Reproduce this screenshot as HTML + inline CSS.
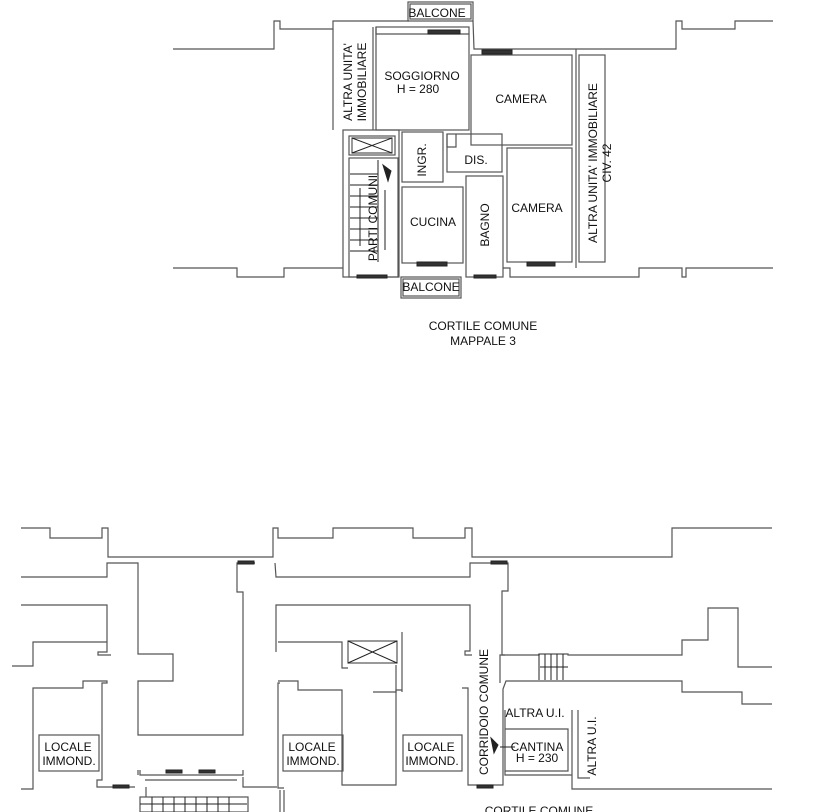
<!DOCTYPE html>
<html><head><meta charset="utf-8"><style>
body{margin:0;background:#fff}
svg{display:block}
text{font-family:"Liberation Sans",sans-serif;font-size:12px;fill:#111}
.w{fill:none;stroke:#555;stroke-width:1.2}
.t{fill:none;stroke:#222;stroke-width:1}
</style></head><body>
<svg width="832" height="812" viewBox="0 0 832 812" xmlns="http://www.w3.org/2000/svg">
<!-- TOP PLAN -->
<g class="w">
<polyline points="173,49 274,49 274,21 280,21 280,29 333,29 333,21 409,21"/>
<rect x="408" y="2" width="65" height="19"/>
<rect x="410" y="4" width="61" height="15"/>
<polyline points="473,21 474,49 676,49 676,21 682,21 682,29 735,29 735,21 773,21"/>
<polyline points="333,29 333,130"/>
<line x1="373" y1="27" x2="373" y2="130"/>
<rect x="376" y="27" width="93" height="103"/>
<polyline points="376,27 376,34 469,34"/>
<rect x="471" y="55" width="101" height="90"/>
<line x1="576" y1="49" x2="576" y2="268"/>
<rect x="579" y="55" width="26" height="207"/>
<rect x="507" y="148" width="65" height="114"/>
<rect x="466" y="176" width="37" height="101"/>
<rect x="447" y="134" width="55" height="38"/>
<polyline points="447,134 447,147 456,147 456,134"/>
<rect x="402" y="132" width="41" height="50"/>
<rect x="402" y="187" width="61" height="76"/>
<rect x="343" y="130" width="56" height="147"/>
<rect x="349" y="136" width="46" height="19"/>
<rect x="352" y="138" width="40" height="15"/>
<rect x="349" y="158" width="49" height="119"/>
<rect x="401" y="277" width="60" height="21"/>
<rect x="403" y="279" width="56" height="17"/>
<polyline points="173,268 237,268 237,277 284,277 284,268 343,268"/>
<polyline points="503,268 510,268 510,277 639,277 639,268 682,268 682,277 686,277 686,268 773,268"/>
</g>
<g class="t">
<line x1="352" y1="138" x2="392" y2="153"/><line x1="392" y1="138" x2="352" y2="153"/>
<line x1="350" y1="174" x2="378" y2="174"/><line x1="350" y1="185" x2="378" y2="185"/>
<line x1="350" y1="196" x2="378" y2="196"/><line x1="350" y1="207" x2="378" y2="207"/>
<line x1="350" y1="218" x2="378" y2="218"/><line x1="350" y1="229" x2="378" y2="229"/>
<line x1="350" y1="240" x2="378" y2="240"/><line x1="350" y1="251" x2="378" y2="251"/>
<line x1="360" y1="188" x2="360" y2="246"/><line x1="385" y1="190" x2="385" y2="250"/>
<line x1="378" y1="160" x2="378" y2="262"/>
<rect x="428" y="30" width="32" height="4" fill="#333"/>
<rect x="482" y="50" width="30" height="4" fill="#333"/>
<rect x="417" y="262" width="30" height="4" fill="#333"/>
<rect x="527" y="262" width="28" height="4" fill="#333"/>
<rect x="357" y="275" width="30" height="3" fill="#333"/>
<rect x="474" y="275" width="22" height="3" fill="#333"/>
<path d="M383,165 l8,6 l-3,10 z" fill="#222"/>
</g>
<text x="422" y="80" text-anchor="middle">SOGGIORNO</text>
<text x="418" y="93" text-anchor="middle">H = 280</text>
<text x="521" y="103" text-anchor="middle">CAMERA</text>
<text x="537" y="212" text-anchor="middle">CAMERA</text>
<text x="433" y="226" text-anchor="middle">CUCINA</text>
<text x="476" y="164" text-anchor="middle">DIS.</text>
<text x="437" y="17" text-anchor="middle">BALCONE</text>
<text x="431" y="291" text-anchor="middle">BALCONE</text>
<text transform="translate(426,160) rotate(-90)" text-anchor="middle">INGR.</text>
<text transform="translate(489,225) rotate(-90)" text-anchor="middle">BAGNO</text>
<text transform="translate(377,218) rotate(-90)" text-anchor="middle">PARTI COMUNI</text>
<text transform="translate(352,82) rotate(-90)" text-anchor="middle">ALTRA UNITA'</text>
<text transform="translate(366,82) rotate(-90)" text-anchor="middle">IMMOBILIARE</text>
<text transform="translate(597,163) rotate(-90)" text-anchor="middle">ALTRA UNITA' IMMOBILIARE</text>
<text transform="translate(611,163) rotate(-90)" text-anchor="middle">CIV. 42</text>
<text x="483" y="330" text-anchor="middle">CORTILE COMUNE</text>
<text x="483" y="345" text-anchor="middle">MAPPALE 3</text>

<!-- BOTTOM PLAN -->
<g class="w">
<polyline points="21,528 50,528 50,538 102,538 102,528 108,528 108,557 273,557 273,528 278,528 278,538 333,538 333,528 413,528 413,538 465,538 465,528 472,528 472,557 672,557 672,528 772,528"/>
<polyline points="21,577 107,577 107,563 138,563 138,654 173,654 173,681 138,681 138,735 243,735 243,592 237,592 237,563 255,563"/>
<polyline points="275,563 276,577 470,577 470,563 508,563 508,591 502,591 502,655 505,655"/>
<polyline points="21,605 107,605 107,652 98,652 98,655 111,655"/>
<polyline points="276,652 276,605 470,605 470,651 465,651 465,655 472,655"/>
<polyline points="12,666 33,666 33,642 107,642"/>
<polyline points="278,642 342,642 342,668 348,668"/>
<polyline points="21,789 33,789 33,688 83,688 83,681 107,681 107,683 102,683 102,780 97,780 97,787 135,787"/>
<polyline points="278,681 298,681 298,690 342,690 342,785 396,785 396,690 402,690"/>
<polyline points="402,632 402,690 402,692"/>
<polyline points="280,683 278,683 278,788 284,788"/>
<polyline points="243,777 243,787 277,787"/>
<rect x="39" y="735" width="60" height="36"/>
<rect x="283" y="735" width="60" height="36"/>
<rect x="403" y="735" width="59" height="36"/>
<rect x="348" y="641" width="49" height="22"/>
<polyline points="373,692 396,692 396,665"/>
<polyline points="462,688 468,688 468,785 503,785 503,689 506,681 682,681 682,692 742,692 742,704 772,704"/>
<polyline points="500,683 500,655 539,655 539,654 568,654 568,655 682,655 682,640 708,640 708,608 738,608 738,667 745,667 772,667"/>
<polyline points="505,710 505,729 568,729 568,771 505,771 505,729"/>
<polyline points="572,710 572,789 772,789"/>
<polyline points="578,710 578,778 590,778"/>
<polyline points="505,771 505,775 572,775"/>
<line x1="138" y1="775" x2="138" y2="770"/>
<polyline points="140,770 140,775 243,775 243,770"/>
<line x1="145" y1="780" x2="237" y2="780"/>
<line x1="146" y1="787" x2="146" y2="797"/>
<rect x="140" y="797" width="108" height="15"/>
<line x1="280" y1="790" x2="280" y2="812"/><line x1="284" y1="790" x2="284" y2="812"/>
</g>
<g class="t">
<line x1="348" y1="641" x2="397" y2="663"/><line x1="397" y1="641" x2="348" y2="663"/>
<line x1="539" y1="654" x2="539" y2="680"/><line x1="545" y1="654" x2="545" y2="680"/>
<line x1="551" y1="654" x2="551" y2="680"/><line x1="557" y1="654" x2="557" y2="680"/>
<line x1="563" y1="654" x2="563" y2="680"/><line x1="540" y1="667" x2="568" y2="667"/>
<line x1="152" y1="797" x2="152" y2="812"/><line x1="163" y1="797" x2="163" y2="812"/>
<line x1="174" y1="797" x2="174" y2="812"/><line x1="185" y1="797" x2="185" y2="812"/>
<line x1="196" y1="797" x2="196" y2="812"/><line x1="207" y1="797" x2="207" y2="812"/>
<line x1="218" y1="797" x2="218" y2="812"/><line x1="229" y1="797" x2="229" y2="812"/>
<line x1="140" y1="804" x2="247" y2="804"/>
<rect x="238" y="561" width="16" height="3" fill="#333"/>
<rect x="491" y="561" width="16" height="3" fill="#333"/>
<rect x="113" y="785" width="16" height="3" fill="#333"/>
<rect x="166" y="770" width="16" height="3" fill="#333"/>
<rect x="199" y="770" width="16" height="3" fill="#333"/>
<rect x="477" y="785" width="16" height="3" fill="#333"/>
<path d="M491,738 l7,7 l-4,8 z" fill="#222"/>
<line x1="500" y1="747" x2="515" y2="747"/>
</g>
<text x="68" y="751" text-anchor="middle">LOCALE</text>
<text x="69" y="765" text-anchor="middle">IMMOND.</text>
<text x="312" y="751" text-anchor="middle">LOCALE</text>
<text x="313" y="765" text-anchor="middle">IMMOND.</text>
<text x="431" y="751" text-anchor="middle">LOCALE</text>
<text x="432" y="765" text-anchor="middle">IMMOND.</text>
<text x="537" y="751" text-anchor="middle">CANTINA</text>
<text x="537" y="762" text-anchor="middle">H = 230</text>
<text x="535" y="717" text-anchor="middle">ALTRA U.I.</text>
<text transform="translate(596,746) rotate(-90)" text-anchor="middle">ALTRA U.I.</text>
<text transform="translate(488,712) rotate(-90)" text-anchor="middle">CORRIDOIO COMUNE</text>
<text x="539" y="815" text-anchor="middle">CORTILE COMUNE</text>
</svg>
</body></html>
